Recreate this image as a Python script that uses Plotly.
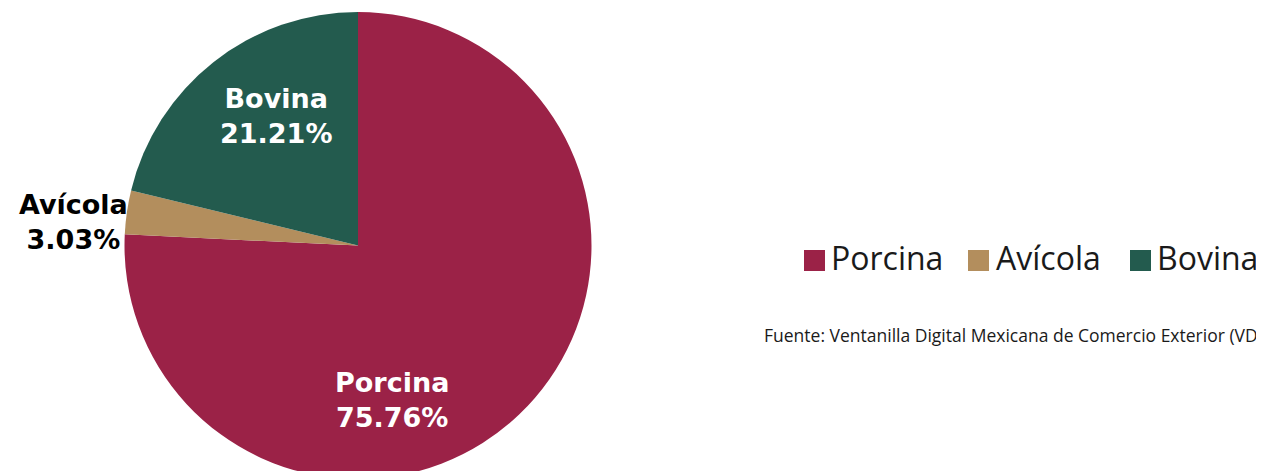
import plotly.graph_objects as go

# ---- data ----
categories = ["Porcina", "Avícola", "Bovina"]
shares = [75.76, 3.03, 21.21]
colors = ["#9B2247", "#B38E5D", "#235B4E"]
source_text = "Fuente: Ventanilla Digital Mexicana de Comercio Exterior (VDM)"

W, H = 1264, 471
OFF = 8  # page body margin offset (screen px = figure px + 8)


def px_x(x):
    return (x - OFF) / W


def px_y(y):
    return 1 - (y - OFF) / H


fig = go.Figure()
fig.add_trace(go.Pie(
    labels=categories,
    values=shares,
    marker=dict(colors=colors, line=dict(width=0)),
    sort=False,
    direction="clockwise",
    rotation=0,
    textinfo="none",
    hoverinfo="label+percent",
    showlegend=False,
    domain=dict(x=[0, 700 / W], y=[0, 1 - 4 / H]),
))

# slice labels (screen pixel positions of label centres)
label_pos = {"Porcina": (392, 400, "white"),
             "Avícola": (73, 222, "black"),
             "Bovina": (276, 116, "white")}
annotations = []
for name, val in zip(categories, shares):
    sx, sy, col = label_pos[name]
    annotations.append(dict(
        x=px_x(sx), y=px_y(sy), xref="paper", yref="paper",
        xanchor="center", yanchor="middle", showarrow=False,
        text=f"<b>{name}<br>{val:.2f}%</b>",
        font=dict(family="DejaVu Sans", size=27, color=col),
    ))

# manual legend (large squares like the reference)
legend_sq_x = [804, 968, 1130]
legend_tx_x = [829, 994, 1155]
shapes = []
for name, col, sx, tx in zip(categories, colors, legend_sq_x, legend_tx_x):
    shapes.append(dict(
        type="rect", xref="paper", yref="paper",
        x0=px_x(sx), x1=px_x(sx + 21), y0=px_y(271), y1=px_y(250),
        fillcolor=col, line=dict(width=0),
    ))
    annotations.append(dict(
        x=px_x(tx), y=px_y(257), xref="paper", yref="paper",
        xanchor="left", yanchor="middle", showarrow=False,
        text=name, font=dict(family="Open Sans", size=32, color="#1a1a1a"),
    ))

annotations.append(dict(
    x=px_x(762), y=px_y(335), xref="paper", yref="paper",
    xanchor="left", yanchor="middle", showarrow=False,
    text=source_text, font=dict(family="Open Sans", size=17.5, color="#1a1a1a"),
))

fig.update_layout(
    width=W, height=H,
    margin=dict(l=0, r=0, t=0, b=0),
    paper_bgcolor="white",
    plot_bgcolor="white",
    annotations=annotations,
    shapes=shapes,
)

fig.write_html("out.html")
